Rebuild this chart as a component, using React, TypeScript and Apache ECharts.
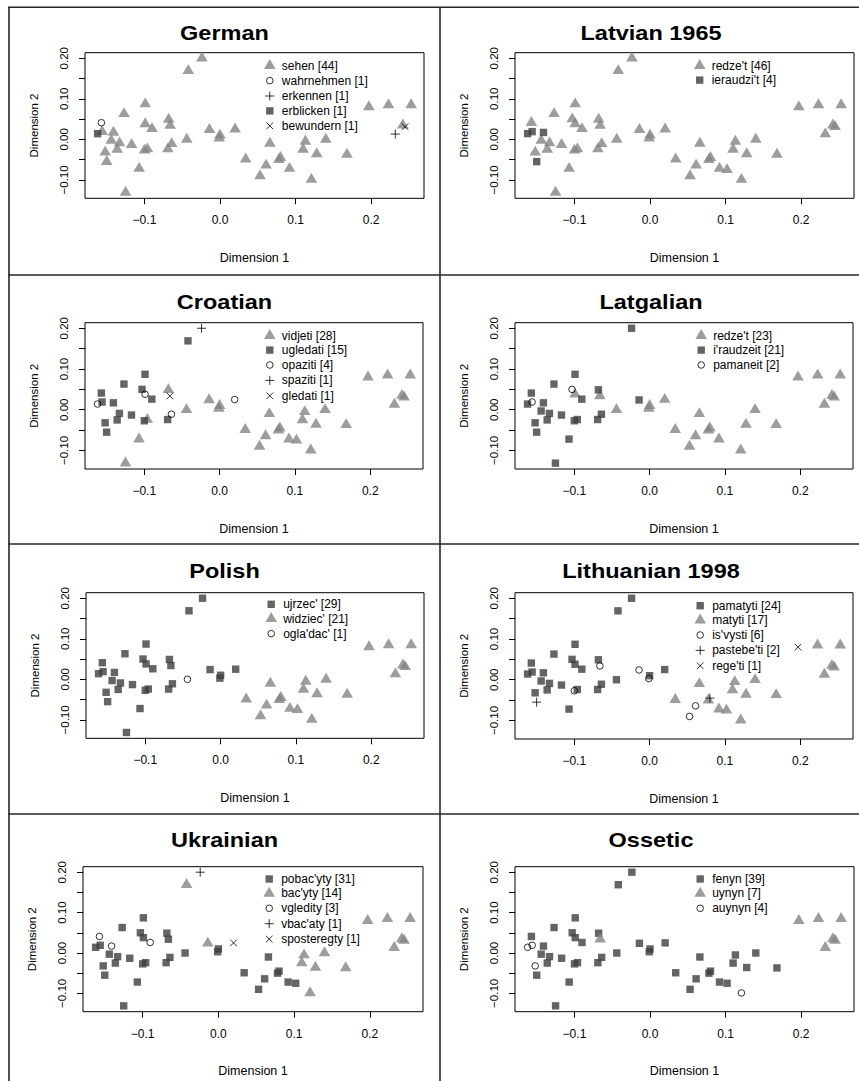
import React, { useEffect, useRef } from "react";
import * as echarts from "echarts";

// MDS coordinates of the 50 contexts (shared by every panel)
const dim1 = [
  -0.024, -0.042, -0.099, -0.127, -0.103, -0.068, -0.157, -0.099, -0.090, -0.014,
  0.020, 0.000, -0.001, -0.141, -0.044, -0.144, -0.133, -0.064, -0.117, -0.096,
  -0.100, -0.136, -0.069, -0.150, -0.107, -0.125, 0.066, 0.113, 0.140, 0.110,
  0.128, 0.168, 0.034, 0.080, 0.078, 0.061, 0.092, 0.102, 0.053, -0.162,
  -0.156, -0.152, 0.121, -0.066, 0.197, 0.223, 0.253, 0.232, 0.242, 0.245,
];
const dim2 = [
  0.200, 0.169, 0.087, 0.063, 0.050, 0.049, 0.041, 0.038, 0.026, 0.024,
  0.025, 0.010, 0.003, 0.017, 0.000, -0.003, -0.009, -0.011, -0.013, -0.024,
  -0.027, -0.025, -0.024, -0.055, -0.072, -0.131, -0.010, -0.005, 0.000, -0.025,
  -0.036, -0.037, -0.049, -0.045, -0.050, -0.064, -0.072, -0.075, -0.090, 0.014,
  0.019, -0.032, -0.099, 0.034, 0.080, 0.085, 0.085, 0.013, 0.035, 0.031,
];

const titles = ["German", "Latvian 1965", "Croatian", "Latgalian", "Polish", "Lithuanian 1998", "Ukrainian", "Ossetic"];

// verb labels, marker per verb, and verb code per context (-1 = not attested)
const germanVerbs = ["sehen [44]", "wahrnehmen [1]", "erkennen [1]", "erblicken [1]", "bewundern [1]"];
const germanMarks = ["tri", "circle", "plus", "square", "cross"];
const germanCodes = [
  0, 0, 0, 0, -1, 0, 1, 0, 0, 0,
  0, 0, 0, 0, 0, 0, 0, 0, 0, 0,
  0, 0, 0, 0, 0, 0, 0, 0, 0, 0,
  0, 0, 0, 0, 0, 0, 0, -1, 0, 3,
  0, 0, 0, 0, 0, 0, 0, 2, 0, 4,
];

const latvianVerbs = ["redze't [46]", "ieraudzi't [4]"];
const latvianMarks = ["tri", "square"];
const latvianCodes = [
  0, 0, 0, 0, 0, 0, 0, 0, 0, 0,
  0, 0, 0, 1, 0, 0, 0, 0, 0, 0,
  0, 0, 0, 1, 0, 0, 0, 0, 0, 0,
  0, 0, 0, 0, 0, 0, 0, 0, 0, 1,
  1, 0, 0, 0, 0, 0, 0, 0, 0, 0,
];

const croatianVerbs = ["vidjeti [28]", "ugledati [15]", "opaziti [4]", "spaziti [1]", "gledati [1]"];
const croatianMarks = ["tri", "square", "circle", "plus", "cross"];
const croatianCodes = [
  3, 1, 1, 1, 1, 0, 1, 2, 1, 0,
  2, 0, 0, 1, 0, -1, 1, 2, 1, 0,
  1, 1, 1, 1, 0, 0, 0, 0, 0, 0,
  0, 0, 0, 0, 0, 0, 0, 0, 0, 2,
  1, 1, 0, 4, 0, 0, 0, 0, 0, 0,
];

const latgalianVerbs = ["redze't [23]", "i'raudzeit [21]", "pamaneit [2]"];
const latgalianMarks = ["tri", "square", "circle"];
const latgalianCodes = [
  1, -1, 1, 1, 2, 1, 1, 0, 1, 1,
  0, 0, 0, 1, 0, 1, 1, 1, 1, 1,
  1, 1, 1, 1, 1, 1, 0, -1, 0, -1,
  0, 0, 0, 0, 0, 0, 0, -1, 0, 1,
  2, 1, 0, 0, 0, 0, 0, 0, 0, 0,
];

const polishVerbs = ["ujrzec' [29]", "widziec' [21]", "ogla'dac' [1]"];
const polishMarks = ["square", "tri", "circle"];
const polishCodes = [
  0, 0, 0, 0, 0, 0, 0, 0, 0, 0,
  0, 0, 0, 0, 2, 0, 0, 0, 0, 0,
  0, 0, 0, 0, 0, 0, 1, 1, 1, 1,
  1, 1, 1, 1, 1, 1, 1, 1, 1, 0,
  0, 0, 1, 0, 1, 1, 1, 1, 1, 1,
];

const lithuanianVerbs = ["pamatyti [24]", "matyti [17]", "is'vysti [6]", "pastebe'ti [2]", "rege'ti [1]"];
const lithuanianMarks = ["square", "tri", "circle", "plus", "cross"];
const lithuanianCodes = [
  0, 0, 0, 0, 0, 0, 0, 0, 0, 2,
  0, 0, 2, 0, 0, 0, 0, 0, 0, 0,
  2, 0, 0, 3, 0, -1, 1, 1, 1, 1,
  1, 1, 1, 3, 1, 2, 1, 1, 2, 0,
  0, 0, 1, 2, 4, 1, 1, 1, 1, 1,
];

const ukrainianVerbs = ["pobac'yty [31]", "bac'yty [14]", "vgledity [3]", "vbac'aty [1]", "sposteregty [1]"];
const ukrainianMarks = ["square", "tri", "circle", "plus", "cross"];
const ukrainianCodes = [
  3, 1, 0, 0, 0, 0, 2, 0, 2, 1,
  4, 0, 0, 2, 0, 0, 0, 0, 0, 0,
  0, 0, 0, 0, 0, 0, 0, 1, 1, 1,
  1, 1, 0, 0, 0, 0, 0, 0, 0, 0,
  0, 0, 1, 0, 1, 1, 1, 1, 1, 1,
];

const osseticVerbs = ["fenyn [39]", "uynyn [7]", "auynyn [4]"];
const osseticMarks = ["square", "tri", "circle"];
const osseticCodes = [
  0, 0, 0, 0, 0, 0, 0, 0, 0, 0,
  0, 0, 0, 0, 0, 0, 0, 0, 0, 0,
  0, 0, 0, 0, 0, 0, 0, 0, 0, 0,
  0, 0, 0, 0, 0, 0, 0, 0, 0, 2,
  2, 2, 2, 1, 1, 1, 1, 1, 1, 1,
];

const xTickValues = [-0.1, 0, 0.1, 0.2];
const yTickValues = [-0.1, -0.05, 0, 0.05, 0.1, 0.15, 0.2];
const yLabelValues = [-0.1, 0, 0.1, 0.2];

const panels = [
  { verbs: germanVerbs, marks: germanMarks, codes: germanCodes },
  { verbs: latvianVerbs, marks: latvianMarks, codes: latvianCodes },
  { verbs: croatianVerbs, marks: croatianMarks, codes: croatianCodes },
  { verbs: latgalianVerbs, marks: latgalianMarks, codes: latgalianCodes },
  { verbs: polishVerbs, marks: polishMarks, codes: polishCodes },
  { verbs: lithuanianVerbs, marks: lithuanianMarks, codes: lithuanianCodes },
  { verbs: ukrainianVerbs, marks: ukrainianMarks, codes: ukrainianCodes },
  { verbs: osseticVerbs, marks: osseticMarks, codes: osseticCodes },
];

// ---- layout (pixels) ----
const W = 859;
const H = 1081;
const X_MIN = -0.1787;
const X_MAX = 0.27;
const Y_MIN = -0.1454;
const Y_MAX = 0.2136;
const boxL = [85, 515, 85, 515, 86, 515, 83, 515];
const boxR = [424, 854, 423, 853, 424, 853, 423, 854];
const boxT = [52.7, 52.7, 322.7, 322.7, 592.7, 592.7, 866.7, 866.7];
const boxB = [198.3, 198.3, 469, 469, 738.3, 739, 1011.7, 1011.7];
const titleX = [224.5, 651];
const titleY = [33, 33, 302, 302, 570.5, 570.5, 840, 840];
const legX = [269.3, 699.7, 269.3, 700.7, 270.7, 699.7, 268.7, 699.7];
const legY = [65.7, 65.7, 335.7, 335.7, 604.3, 605.7, 879, 879];

const FONT = '"Liberation Sans", Arial, Helvetica, sans-serif';
const B = "M0 0M14 14";
const MARK: Record<string, { symbol: string; itemStyle: any; stroked: boolean }> = {
  tri: { symbol: `path://${B}M7 0.4L12.8 10.3L1.2 10.3Z`, itemStyle: { color: "#858585", borderWidth: 0 }, stroked: false },
  square: { symbol: `path://${B}M3.3 3.3L10.7 3.3L10.7 10.7L3.3 10.7Z`, itemStyle: { color: "#3d3d3d", borderWidth: 0 }, stroked: false },
  circle: {
    symbol: `path://${B}M10.3 7A3.3 3.3 0 1 1 3.7 7A3.3 3.3 0 1 1 10.3 7Z`,
    itemStyle: { color: "rgba(255,255,255,0)", borderColor: "#000", borderWidth: 1 },
    stroked: true,
  },
  plus: {
    symbol: `path://${B}M2.5 7L11.5 7M7 2.5L7 11.5`,
    itemStyle: { color: "rgba(255,255,255,0)", borderColor: "#000", borderWidth: 1 },
    stroked: true,
  },
  cross: {
    symbol: `path://${B}M3.7 3.7L10.3 10.3M10.3 3.7L3.7 10.3`,
    itemStyle: { color: "rgba(255,255,255,0)", borderColor: "#000", borderWidth: 1 },
    stroked: true,
  },
};

const minus = (s: string, v: number) => (v < -1e-9 ? "\u2212" + s : s);

function buildOption() {
  const grid: any[] = [];
  const xAxis: any[] = [];
  const yAxis: any[] = [];
  const series: any[] = [];
  const legend: any[] = [];
  const graphic: any[] = [];

  panels.forEach((p, i) => {
    grid.push({
      left: boxL[i],
      top: boxT[i],
      width: boxR[i] - boxL[i],
      height: boxB[i] - boxT[i],
      show: true,
      borderColor: "#000",
      borderWidth: 1,
      backgroundColor: "transparent",
    });
    xAxis.push({
      type: "value",
      gridIndex: i,
      position: "bottom",
      min: X_MIN,
      max: X_MAX,
      axisLine: { show: false, onZero: false },
      splitLine: { show: false },
      axisTick: { show: true, inside: false, length: 6, customValues: xTickValues, lineStyle: { color: "#000", width: 1 } },
      axisLabel: {
        show: true,
        customValues: xTickValues,
        margin: 16,
        fontSize: 12,
        color: "#000",
        fontFamily: FONT,
        formatter: (v: number) => minus(Math.abs(v).toFixed(1), v),
      },
      name: "Dimension 1",
      nameLocation: "middle",
      nameGap: 53,
      nameTextStyle: { fontSize: 12.5, color: "#000", fontFamily: FONT },
    });
    yAxis.push({
      type: "value",
      gridIndex: i,
      position: "left",
      min: Y_MIN,
      max: Y_MAX,
      axisLine: { show: false, onZero: false },
      splitLine: { show: false },
      axisTick: { show: true, inside: false, length: 6, customValues: yTickValues, lineStyle: { color: "#000", width: 1 } },
      axisLabel: {
        show: true,
        customValues: yLabelValues,
        rotate: 90,
        margin: 15,
        fontSize: 11.5,
        color: "#000",
        fontFamily: FONT,
        formatter: (v: number) => minus(Math.abs(v).toFixed(2), v),
      },
      name: "Dimension 2",
      nameLocation: "middle",
      nameGap: 45,
      nameTextStyle: { fontSize: 11.5, color: "#000", fontFamily: FONT },
    });
    p.verbs.forEach((verb, v) => {
      const m = MARK[p.marks[v]];
      const data: number[][] = [];
      p.codes.forEach((c, k) => {
        if (c === v) data.push([dim1[k], dim2[k]]);
      });
      series.push({
        type: "scatter",
        name: verb,
        xAxisIndex: i,
        yAxisIndex: i,
        data,
        symbol: m.symbol,
        symbolSize: 14,
        itemStyle: m.itemStyle,
        silent: true,
        emphasis: { disabled: true },
      });
    });
    legend.push({
      data: p.verbs.map((verb, v) => {
        const m = MARK[p.marks[v]];
        return {
          name: verb,
          itemStyle: m.stroked
            ? { color: "rgba(255,255,255,0)", borderColor: "#000", borderWidth: 1 }
            : { color: m.itemStyle.color, borderWidth: 0 },
        };
      }),
      orient: "vertical",
      left: legX[i] - 7,
      top: legY[i] - 7,
      itemWidth: 14,
      itemHeight: 14,
      itemGap: 0.4,
      padding: 0,
      selectedMode: false,
      textStyle: { fontSize: 12, lineHeight: 14, color: "#000", fontFamily: FONT },
    });
    graphic.push({
      type: "text",
      x: titleX[i % 2],
      y: titleY[i],
      scaleX: 1.12,
      style: {
        text: titles[i],
        fill: "#000",
        font: `bold 21px ${FONT}`,
        textAlign: "center",
        textVerticalAlign: "middle",
      },
    });
  });

  // panel frame lines
  const frame = { stroke: "#262626", lineWidth: 1.6 };
  [7.3, 275, 544, 814].forEach((y) => {
    graphic.push({ type: "line", shape: { x1: 8, y1: y, x2: W, y2: y }, style: frame, silent: true });
  });
  [9, 440].forEach((x) => {
    graphic.push({ type: "line", shape: { x1: x, y1: 7, x2: x, y2: H }, style: frame, silent: true });
  });

  return {
    animation: false,
    backgroundColor: "#fff",
    grid,
    xAxis,
    yAxis,
    series,
    legend,
    graphic,
  };
}

export default function App() {
  const ref = useRef<HTMLDivElement>(null);
  useEffect(() => {
    if (!ref.current) return;
    const chart = echarts.init(ref.current, undefined, { renderer: "svg", width: W, height: H });
    chart.setOption(buildOption() as any);
    return () => chart.dispose();
  }, []);
  return (
    <div style={{ position: "absolute", left: 0, top: 0, width: W, height: H, background: "#fff" }}>
      <div ref={ref} style={{ width: W, height: H }} />
    </div>
  );
}
